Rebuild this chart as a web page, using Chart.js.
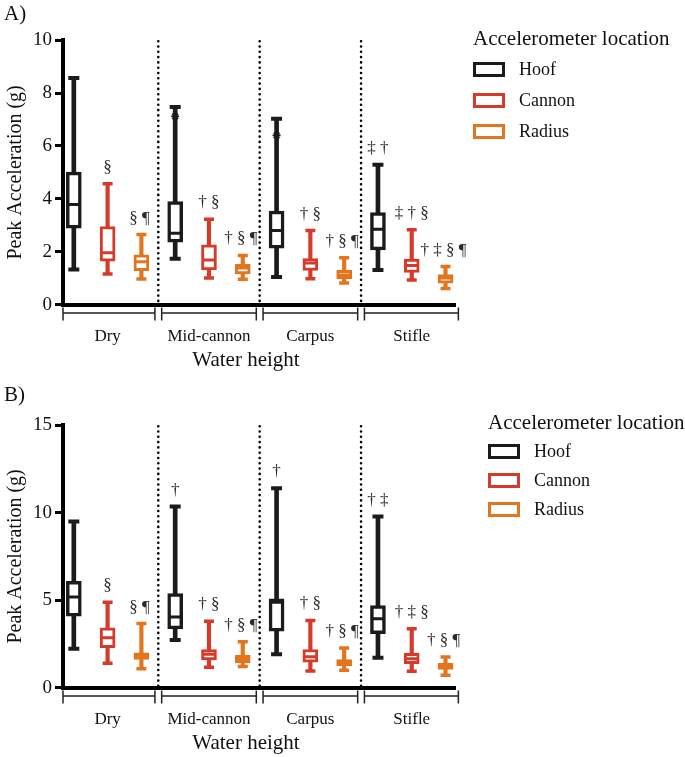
<!DOCTYPE html>
<html>
<head>
<meta charset="utf-8">
<script src="https://cdn.jsdelivr.net/npm/chart.js@4.4.1/dist/chart.umd.min.js"></script>
<style>
  html, body { margin: 0; padding: 0; background: #fff; overflow: hidden; }
  body { width: 685px; height: 757px; position: relative; font-family: "Liberation Serif", "Times New Roman", serif; color: #111; }
  .panel { position: absolute; left: 0; width: 685px; }
  #panelA { top: 0; height: 380px; }
  #panelB { top: 380px; height: 377px; }
  .legend { position: absolute; }
  .legend .title { position: absolute; left: 0; top: 0; font-size: 21px; line-height: 24px; white-space: nowrap; }
  .legend .item { position: absolute; left: 0; height: 20px; display: flex; align-items: center; font-size: 18px; white-space: nowrap; }
  .legend .swatch { box-sizing: border-box; width: 32px; height: 15px; border: 3px solid; background: #fff; margin-right: 14px; }
</style>
</head>
<body>
<div class="panel" id="panelA"><canvas id="chartA" width="685" height="380"></canvas></div>
<div class="panel" id="panelB"><canvas id="chartB" width="685" height="377"></canvas></div>
<div class="legend" id="legendA" style="left:473px; top:26px;"></div>
<div class="legend" id="legendB" style="left:488px; top:410px;"></div>
<script>
const groups = ["Dry", "Mid-cannon", "Carpus", "Stifle"];
const locations = ["Hoof", "Cannon", "Radius"];
const colors = ["#1b1b1b", "#d63a2a", "#e2751e"];

// [min, q1, median, q3, max] for each water height
const hoofA = [[1.33, 2.89, 3.79, 5.01, 8.57], [1.73, 2.36, 2.70, 3.90, 7.47], [1.04, 2.13, 2.80, 3.54, 7.03], [1.31, 2.07, 2.85, 3.48, 5.29]];
const cannonA = [[1.16, 1.64, 1.96, 2.95, 4.57], [1.01, 1.31, 1.69, 2.26, 3.23], [0.98, 1.29, 1.57, 1.74, 2.80], [0.93, 1.22, 1.48, 1.72, 2.83]];
const radiusA = [[0.97, 1.28, 1.62, 1.88, 2.65], [0.96, 1.16, 1.38, 1.52, 1.86], [0.82, 0.98, 1.12, 1.30, 1.77], [0.61, 0.81, 1.01, 1.14, 1.44]];
const hoofExtraA = [null, 7.12, 6.40, null];

const hoofB = [[2.22, 4.08, 5.18, 6.08, 9.49], [2.72, 3.36, 4.04, 5.37, 10.35], [1.90, 3.23, 4.88, 5.07, 11.39], [1.71, 3.09, 3.93, 4.69, 9.78]];
const cannonB = [[1.39, 2.28, 2.85, 3.42, 4.88], [1.16, 1.58, 1.90, 2.18, 3.80], [0.95, 1.46, 1.77, 2.18, 3.84], [0.93, 1.37, 1.65, 1.96, 3.36]];
const radiusB = [[1.08, 1.61, 1.80, 1.99, 3.66], [1.20, 1.42, 1.65, 1.84, 2.62], [0.99, 1.25, 1.45, 1.60, 2.26], [0.70, 1.04, 1.23, 1.39, 1.75]];
const hoofExtraB = [null, null, null, null];

// significance symbols above each box
const hoofMarksA = ["", "", "", "‡ †"];
const cannonMarksA = ["§", "† §", "† §", "‡ † §"];
const radiusMarksA = ["§ ¶", "† § ¶", "† § ¶", "† ‡ § ¶"];
const hoofMarksB = ["", "†", "†", "† ‡"];
const cannonMarksB = ["§", "† §", "† §", "† ‡ §"];
const radiusMarksB = ["§ ¶", "† § ¶", "† § ¶", "† § ¶"];

const yTicksA = [0, 2, 4, 6, 8, 10];
const yTicksB = [0, 5, 10, 15];

const serif = '"Liberation Serif", "Times New Roman", serif';
Chart.defaults.font.family = serif;
Chart.defaults.color = "#111";

function xPos(g, k) {
  return g * 3 + k + 1;
}

function buildDatasets(series, extra) {
  const sets = [];
  series.forEach((rows, k) => {
    const color = colors[k];
    const heavy = k === 0;
    sets.push({
      type: "bar",
      label: locations[k] + " whisker",
      order: 5,
      data: rows.map((r, g) => ({ x: xPos(g, k), y: [r[0], r[4]] })),
      backgroundColor: color,
      borderWidth: 0,
      barThickness: heavy ? 4 : 3.5,
      grouped: false,
    });
    sets.push({
      type: "bar",
      label: locations[k],
      order: 4,
      data: rows.map((r, g) => ({ x: xPos(g, k), y: [r[1], r[3]] })),
      backgroundColor: "#fff",
      borderColor: color,
      borderWidth: heavy ? 3.5 : 3,
      borderSkipped: false,
      barThickness: 15,
      grouped: false,
    });
    sets.push({
      type: "scatter",
      order: 3,
      data: rows.map((r, g) => ({ x: xPos(g, k), y: r[2] })),
      pointStyle: "line",
      pointRadius: 6,
      pointBorderColor: color,
      pointBorderWidth: 3,
    });
    sets.push({
      type: "scatter",
      order: 2,
      data: rows.flatMap((r, g) => [{ x: xPos(g, k), y: r[0] }, { x: xPos(g, k), y: r[4] }]),
      pointStyle: "line",
      pointRadius: heavy ? 5.5 : 5,
      pointBorderColor: color,
      pointBorderWidth: heavy ? 4 : 3.5,
    });
  });
  sets.push({
    type: "scatter",
    order: 1,
    data: extra.map((v, g) => (v == null ? null : { x: xPos(g, 0), y: v })).filter(Boolean),
    pointStyle: "star",
    pointRadius: 4,
    pointBorderColor: colors[0],
    pointBorderWidth: 1.8,
  });
  return sets;
}

function decorPlugin(series, marks) {
  return {
    id: "decor",
    beforeDatasetsDraw(chart) {
      const { ctx, chartArea } = chart;
      const x = chart.scales.x;
      ctx.save();
      ctx.strokeStyle = "#000";
      ctx.lineWidth = 2.6;
      ctx.lineCap = "round";
      ctx.setLineDash([0, 5.3]);
      for (let g = 1; g < groups.length; g++) {
        const px = x.getPixelForValue(g * 3 + 0.5);
        ctx.beginPath();
        ctx.moveTo(px, chartArea.top + 1);
        ctx.lineTo(px, chartArea.bottom);
        ctx.stroke();
      }
      ctx.restore();
    },
    afterDatasetsDraw(chart) {
      const { ctx } = chart;
      const x = chart.scales.x;
      const y = chart.scales.y;
      ctx.save();
      ctx.font = "17px " + serif;
      ctx.fillStyle = "#2a2a2a";
      ctx.textAlign = "center";
      ctx.textBaseline = "alphabetic";
      series.forEach((rows, k) => {
        rows.forEach((r, g) => {
          const text = marks[k][g];
          if (!text) return;
          ctx.fillText(text, x.getPixelForValue(xPos(g, k)) - (k === 2 ? 2 : 0), y.getPixelForValue(r[4]) - 12);
        });
      });
      ctx.restore();
    },
    afterDraw(chart) {
      const { ctx, chartArea } = chart;
      const x = chart.scales.x;
      const base = chartArea.bottom;
      ctx.save();
      ctx.strokeStyle = "#222";
      ctx.lineWidth = 1.5;
      groups.forEach((name, g) => {
        const a = g === 0 ? x.min : g * 3 + 0.6;
        const b = g === groups.length - 1 ? x.max + 0.1 : g * 3 + 3.4;
        const pa = x.getPixelForValue(a);
        const pb = x.getPixelForValue(b);
        ctx.beginPath();
        ctx.moveTo(pa, base + 8.5);
        ctx.lineTo(pb, base + 8.5);
        ctx.moveTo(pa, base + 3);
        ctx.lineTo(pa, base + 16);
        ctx.moveTo(pb, base + 3);
        ctx.lineTo(pb, base + 16);
        ctx.stroke();
      });
      ctx.font = "21px " + serif;
      ctx.fillStyle = "#111";
      ctx.textAlign = "center";
      ctx.textBaseline = "middle";
      ctx.fillText("Water height", chartArea.left + 183, base + 56);
      ctx.restore();
    },
  };
}

function makePanel(canvasId, label, series, extra, marks, yTicks, pad) {
  return new Chart(document.getElementById(canvasId), {
    type: "bar",
    data: { datasets: buildDatasets(series, extra) },
    options: {
      responsive: false,
      animation: false,
      events: [],
      layout: { padding: { left: 4, right: 230, top: 0, bottom: pad.bottom } },
      plugins: {
        legend: { display: false },
        tooltip: { enabled: false },
        title: {
          display: true,
          text: label,
          align: "start",
          color: "#111",
          font: { size: 21, weight: "normal" },
          padding: { top: pad.titleTop, bottom: pad.titleBottom },
        },
      },
      scales: {
        x: {
          type: "linear",
          min: 0.68,
          max: 12.28,
          offset: false,
          afterBuildTicks: (axis) => {
            axis.ticks = groups.map((_, g) => ({ value: g * 3 + 2 }));
          },
          ticks: {
            callback: (value, index) => groups[index],
            autoSkip: false,
            maxRotation: 0,
            padding: 2,
            color: "#111",
            font: { size: 17 },
          },
          grid: { display: true, offset: false, drawOnChartArea: false, drawTicks: true, tickLength: 20, tickColor: "rgba(0,0,0,0)" },
          border: { display: true, color: "#000", width: 4 },
        },
        y: {
          type: "linear",
          min: yTicks[0],
          max: yTicks[yTicks.length - 1],
          afterBuildTicks: (axis) => {
            axis.ticks = yTicks.map((v) => ({ value: v }));
          },
          ticks: { padding: 3, color: "#111", font: { size: 19 } },
          grid: { display: true, drawOnChartArea: false, drawTicks: true, tickLength: 8, tickWidth: 3, tickColor: "#000" },
          border: { display: true, color: "#000", width: 4 },
          title: {
            display: true,
            text: "Peak Acceleration (g)",
            color: "#111",
            font: { size: 20 },
            padding: { top: 0, bottom: 2 },
          },
        },
      },
    },
    plugins: [decorPlugin(series, marks)],
  });
}

function buildLegend(id, rowGap) {
  const box = document.getElementById(id);
  const title = document.createElement("div");
  title.className = "title";
  title.textContent = "Accelerometer location";
  box.appendChild(title);
  locations.forEach((name, k) => {
    const item = document.createElement("div");
    item.className = "item";
    item.style.top = 12 + rowGap * (k + 1) - 10 + "px";
    item.innerHTML = `<span class="swatch" style="border-color:${colors[k]}"></span><span>${name}</span>`;
    box.appendChild(item);
  });
}

makePanel("chartA", "A)", [hoofA, cannonA, radiusA], hoofExtraA, [hoofMarksA, cannonMarksA, radiusMarksA], yTicksA,
  { titleTop: 2, titleBottom: 13, bottom: 31 });
makePanel("chartB", "B)", [hoofB, cannonB, radiusB], hoofExtraB, [hoofMarksB, cannonMarksB, radiusMarksB], yTicksB,
  { titleTop: 3, titleBottom: 17, bottom: 25 });
buildLegend("legendA", 31);
buildLegend("legendB", 29);
</script>
</body>
</html>
